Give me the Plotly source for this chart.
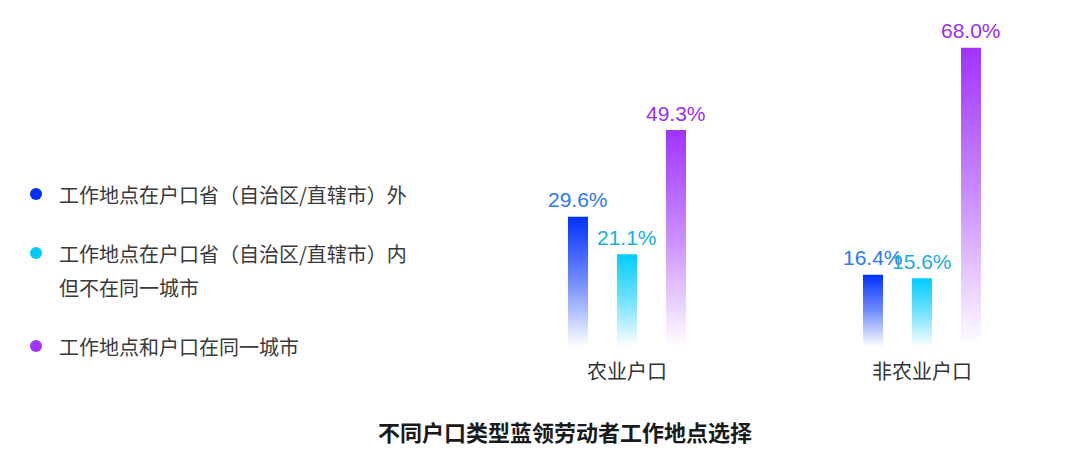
import plotly.graph_objects as go

categories = ["农业户口", "非农业户口"]
series_names = [
    ["工作地点在户口省（自治区/直辖市）外"],
    ["工作地点在户口省（自治区/直辖市）内", "但不在同一城市"],
    ["工作地点和户口在同一城市"],
]
values_out_province = [29.6, 16.4]
values_in_province = [21.1, 15.6]
values_same_city = [49.3, 68.0]
series_values = [values_out_province, values_in_province, values_same_city]
bar_colors = ["#0030FF", "#00CCFF", "#A033FF"]
label_colors = ["#2A78FF", "#1AAEDF", "#9A2EF2"]
title_text = "不同户口类型蓝领劳动者工作地点选择"

# page offset (browser body margin)
OFF = 8
W, H = 1080, 457
L = 332 - OFF
R = 10
B = H - (347 - OFF)
T = 10
plot_w = W - L - R
plot_h = H - T - B
px_per_unit_x = 295.0
px_per_unit_y = 4.4
x_range = [-1.0, -1.0 + plot_w / px_per_unit_x]
y_range = [0, plot_h / px_per_unit_y]

offset = 49.0 / px_per_unit_x
half_w = 10.0 / px_per_unit_x

CJK = "Noto Sans CJK SC"
NUM = "Liberation Sans, Noto Sans CJK SC"


def hex_rgba(h, a):
    h = h.lstrip("#")
    r, g, b = int(h[0:2], 16), int(h[2:4], 16), int(h[4:6], 16)
    return f"rgba({r},{g},{b},{a})"


fig = go.Figure()

for si, vals in enumerate(series_values):
    for ci, v in enumerate(vals):
        c = ci + (si - 1) * offset
        fig.add_trace(go.Scatter(
            x=[c - half_w, c + half_w, c + half_w, c - half_w, c - half_w],
            y=[0, 0, v, v, 0],
            mode="lines",
            line=dict(width=0),
            fill="toself",
            fillgradient=dict(
                type="vertical",
                colorscale=[[0, hex_rgba(bar_colors[si], 0.0)],
                            [0.5, hex_rgba(bar_colors[si], 0.55)],
                            [1, hex_rgba(bar_colors[si], 1.0)]],
            ),
            hoverinfo="skip",
            showlegend=False,
        ))
        fig.add_annotation(
            x=c, y=v, xref="x", yref="y",
            text=f"{v:.1f}%", showarrow=False,
            xanchor="center", yanchor="middle", yshift=17,
            font=dict(family=NUM, size=21, color=label_colors[si]),
        )


def px_x(px):
    return (px - OFF - L) / plot_w


def px_y(py):
    return (H - B - (py - OFF)) / plot_h


legend_y = [194, 253, 346]
line_gap = 34
for si, lines in enumerate(series_names):
    fig.add_shape(type="circle", xref="paper", yref="paper",
                  xsizemode="pixel", ysizemode="pixel",
                  xanchor=px_x(36), yanchor=px_y(legend_y[si]),
                  x0=-6, x1=6, y0=-6, y1=6,
                  fillcolor=bar_colors[si], line=dict(width=0))
    for li, line in enumerate(lines):
        fig.add_annotation(xref="paper", yref="paper",
                           x=px_x(57), y=px_y(legend_y[si] + li * line_gap),
                           xanchor="left", yanchor="middle", align="left",
                           text=line, showarrow=False,
                           font=dict(family=CJK, size=20, color="#3A3A3A"))

fig.update_layout(
    width=W, height=H,
    margin=dict(l=L, r=R, t=T, b=B),
    paper_bgcolor="white", plot_bgcolor="white",
    title=dict(text=title_text, x=(565 - OFF) / W, xanchor="center",
               y=1 - (433 - OFF) / H, yanchor="middle", xref="container",
               yref="container",
               font=dict(family=CJK, size=22, color="#1A1A1A", weight="bold")),
    xaxis=dict(range=x_range, showgrid=False, zeroline=False, showline=False,
               tickmode="array", tickvals=list(range(len(categories))),
               ticktext=categories, ticks="", ticklabelstandoff=11,
               tickfont=dict(family=CJK, size=20, color="#333333"),
               fixedrange=True),
    yaxis=dict(range=y_range, showgrid=False, zeroline=False, showline=False,
               showticklabels=False, fixedrange=True),
    showlegend=False,
)

fig.write_html("out.html")
